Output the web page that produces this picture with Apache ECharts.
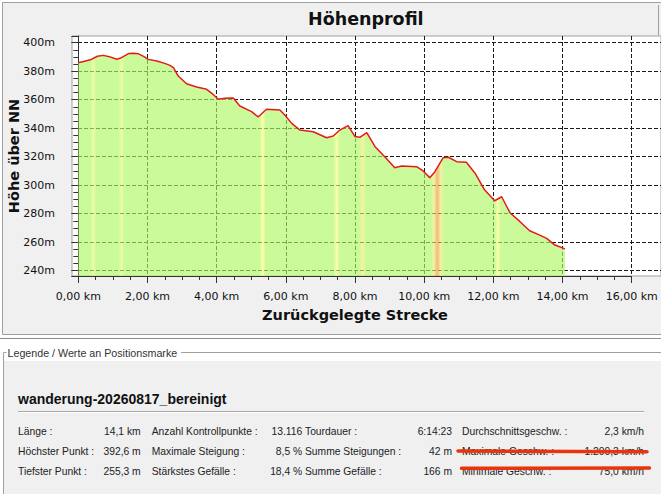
<!DOCTYPE html>
<html>
<head>
<meta charset="utf-8">
<script src="https://cdn.jsdelivr.net/npm/echarts@6/dist/echarts.min.js"></script>
<style>
html,body{margin:0;padding:0;background:#fff;}
#c{width:661px;height:494px;}
</style>
</head>
<body>
<div id="c"></div>
<script>
// ---------- DATA ----------
const distanceKm = [0.00,0.15,0.35,0.55,0.72,0.90,1.11,1.25,1.45,1.60,1.73,1.90,2.02,2.27,2.50,2.65,2.75,2.89,3.13,3.42,3.71,3.86,4.05,4.24,4.48,4.67,5.01,5.20,5.44,5.83,5.97,6.17,6.41,6.79,7.18,7.37,7.56,7.80,8.00,8.14,8.34,8.58,8.86,9.15,9.35,9.78,9.97,10.16,10.31,10.55,10.70,10.94,11.22,11.47,11.75,12.04,12.24,12.48,12.77,13.05,13.34,13.54,13.78,14.07];
const elevationM = [386.0,386.8,388.0,390.5,391.1,390.2,388.4,389.5,392.4,392.6,392.3,390.2,388.3,387.1,385.5,384.1,382.5,376.6,371.2,368.9,367.3,364.5,360.3,361.0,361.2,355.6,351.6,347.9,353.3,352.8,349.3,343.4,338.7,337.5,333.3,334.5,338.7,341.8,334.1,333.6,336.9,327.0,320.0,312.3,313.5,313.0,310.0,305.3,309.5,319.3,319.6,316.5,316.1,308.4,296.6,289.1,291.9,280.7,274.4,268.0,265.0,262.7,258.0,255.3];
const xTicks = [0,2,4,6,8,10,12,14,16];
const yTicks = [240,260,280,300,320,340,360,380,400];
// steep sections (slope classes) shown as coloured bands under the profile
const bandKm = [0.43,1.25,5.33,7.47,8.22,10.38,12.13];
const bandLevel = [1,1,2,2,3,4,2];

const chartTitle = 'Höhenprofil';
const xName = 'Zurückgelegte Strecke';
const yName = 'Höhe über NN';
const trackName = 'wanderung-20260817_bereinigt';
const statLabelsA = ['Länge :', 'Höchster Punkt :', 'Tiefster Punkt :'];
const statValuesA = ['14,1 km', '392,6 m', '255,3 m'];
const statLabelsB = ['Anzahl Kontrollpunkte :', 'Maximale Steigung :', 'Stärkstes Gefälle :'];
const statValuesB = ['13.116', '8,5 %', '18,4 %'];
const statLabelsC = ['Tourdauer :', 'Summe Steigungen :', 'Summe Gefälle :'];
const statValuesC = ['6:14:23', '42 m', '166 m'];
const statLabelsD = ['Durchschnittsgeschw. :', 'Maximale Geschw. :', 'Minimale Geschw. :'];
const statValuesD = ['2,3 km/h', '1.200,3 km/h', '75,0 km/h'];

// ---------- LAYOUT / STYLE ----------
const W = 661, H = 494;
const plotLeft = 72, plotRight = 661, plotTop = 36, plotBottom = 276;
const xAxisStart = 78.3, xAxisEnd = 631.7;   // pixel of first / last x tick
const yAxisTopPx = 42.7, yAxisBottomPx = 270.7; // pixel of last / first y tick
const xFirst = xTicks[0], xLast = xTicks[xTicks.length-1];
const yFirst = yTicks[0], yLast = yTicks[yTicks.length-1];
const pxPerKm = (xAxisEnd - xAxisStart) / (xLast - xFirst);
const pxPerM = (yAxisBottomPx - yAxisTopPx) / (yLast - yFirst);
const xMin = xFirst - (xAxisStart - plotLeft) / pxPerKm;
const xMax = xLast + (plotRight - xAxisEnd) / pxPerKm;
const yMax = yLast + (yAxisTopPx - plotTop) / pxPerM;
const yMin = yFirst - (plotBottom - yAxisBottomPx) / pxPerM;

const FONT = '"DejaVu Sans", sans-serif';
const UIFONT = '"Liberation Sans", Arial, sans-serif';
const baseGreen = 'rgb(175,247,101)';
const bandStyle = {
  1: {color: 'rgb(222,252,110)', hw: 0.09},
  2: {color: 'rgb(252,255,120)', hw: 0.09},
  3: {color: 'rgb(246,236,104)', hw: 0.09},
  4: {color: 'rgb(229,149,72)', edge: 'rgb(240,235,105)', hw: 0.17}
};

const span = distanceKm[distanceKm.length-1] - distanceKm[0];
const off = k => Math.min(1, Math.max(0, (k - distanceKm[0]) / span));
const stops = [{offset: 0, color: baseGreen}];
bandKm.forEach((k, i) => {
  const st = bandStyle[bandLevel[i]];
  stops.push({offset: off(k - st.hw), color: baseGreen});
  if (st.edge) stops.push({offset: off(k - st.hw * 0.6), color: st.edge});
  stops.push({offset: off(k), color: st.color});
  if (st.edge) stops.push({offset: off(k + st.hw * 0.6), color: st.edge});
  stops.push({offset: off(k + st.hw), color: baseGreen});
});
stops.push({offset: 1, color: baseGreen});

const profile = distanceKm.map((k, i) => [k, elevationM[i]]);

const graphics = [
  {type: 'rect', z: -10, silent: true, shape: {x: 2.5, y: 2.5, width: 720, height: 332}, style: {fill: '#f0f0f0', stroke: '#a0a0a0', lineWidth: 1}},
  {type: 'line', z: -9, silent: true, shape: {x1: 658.5, y1: 5, x2: 658.5, y2: 35.5}, style: {stroke: '#a0a0a0', lineWidth: 1}},
  {type: 'line', z: -9, silent: true, shape: {x1: 0, y1: 338.5, x2: W, y2: 338.5}, style: {stroke: '#8c8c8c', lineWidth: 1}},
  {type: 'rect', z: -10, silent: true, shape: {x: 4, y: 361, width: 700, height: 140}, style: {fill: '#f0f0f0'}},
  {type: 'polyline', z: -9, silent: true, shape: {points: [[6.5, 352.5], [3.5, 352.5], [3.5, 500]]}, style: {stroke: '#a0a0a0', fill: null, lineWidth: 1}},
  {type: 'line', z: -9, silent: true, shape: {x1: 181, y1: 352.5, x2: W, y2: 352.5}, style: {stroke: '#a0a0a0', lineWidth: 1}},
  {type: 'text', z: 10, silent: true, style: {x: 7.5, y: 352.5, text: 'Legende / Werte an Positionsmarke', fontFamily: UIFONT, fontSize: 10.7, fill: '#333', align: 'left', verticalAlign: 'middle'}},
  {type: 'text', z: 10, silent: true, style: {x: 18, y: 398.5, text: trackName, fontFamily: UIFONT, fontSize: 14, fontWeight: 'bold', fill: '#111', align: 'left', verticalAlign: 'middle'}},
  {type: 'line', z: 5, silent: true, shape: {x1: 18, y1: 411.5, x2: 644, y2: 411.5}, style: {stroke: '#a8a8a8', lineWidth: 1}},
  {type: 'line', z: 5, silent: true, shape: {x1: 18, y1: 412.5, x2: 644, y2: 412.5}, style: {stroke: '#ffffff', lineWidth: 1}}
];
const rowY = [431.7, 451.7, 471.7];
const colLabelX = [18, 151.7, 305, 462];
const colValueX = [140.7, 302.2, 452, 644];
[[statLabelsA, statValuesA], [statLabelsB, statValuesB], [statLabelsC, statValuesC], [statLabelsD, statValuesD]].forEach((col, c) => {
  col[0].forEach((lab, r) => {
    graphics.push({type: 'text', z: 10, silent: true, style: {x: colLabelX[c], y: rowY[r], text: lab, fontFamily: UIFONT, fontSize: 10.3, fill: '#222', align: 'left', verticalAlign: 'middle'}});
    graphics.push({type: 'text', z: 10, silent: true, style: {x: colValueX[c], y: rowY[r], text: col[1][r], fontFamily: UIFONT, fontSize: 10.3, fill: '#222', align: 'right', verticalAlign: 'middle'}});
  });
});
// red strike-through marks over the last two speed rows
graphics.push({type: 'line', z: 12, silent: true, shape: {x1: 458, y1: 451, x2: 647, y2: 451.8}, style: {stroke: '#e8350f', lineWidth: 3.5, lineCap: 'round'}});
graphics.push({type: 'line', z: 12, silent: true, shape: {x1: 461.5, y1: 468.3, x2: 649.5, y2: 468.0}, style: {stroke: '#e8350f', lineWidth: 3.5, lineCap: 'round'}});

const kmFmt = v => v.toFixed(2).replace('.', ',') + ' km';
const isYTick = v => yTicks.some(t => Math.abs(t - v) < 1e-6);

const chart = echarts.init(document.getElementById('c'), null, {renderer: 'svg', width: W, height: H});
chart.setOption({
  animation: false,
  backgroundColor: '#ffffff',
  title: {
    text: chartTitle, left: 308, top: 10, padding: 0,
    textStyle: {fontFamily: FONT, fontWeight: 'bold', fontSize: 17.5, color: '#111'}
  },
  graphic: graphics,
  grid: [
    {left: plotLeft, right: W - plotRight, top: plotTop, bottom: H - plotBottom, show: true, backgroundColor: '#ffffff', borderColor: '#a0a0a0', borderWidth: 1, containLabel: false, outerBoundsMode: 'none'},
    {left: xAxisStart, right: W - xAxisEnd, top: plotTop, bottom: H - plotBottom, show: false, containLabel: false, outerBoundsMode: 'none'}
  ],
  xAxis: [
    {
      gridIndex: 0, type: 'value', min: xMin, max: xMax, splitNumber: 8,
      axisLine: {show: false}, axisTick: {show: false}, axisLabel: {show: false},
      splitLine: {show: true, showMinLine: false, showMaxLine: false, lineStyle: {color: '#1a1a1a', type: [4, 2], width: 1}}
    },
    {
      gridIndex: 1, type: 'value', min: xFirst, max: xLast, interval: xTicks[1] - xTicks[0],
      position: 'bottom', offset: 4,
      name: xName, nameLocation: 'middle', nameGap: 27,
      nameTextStyle: {fontFamily: FONT, fontWeight: 'bold', fontSize: 14.5, color: '#111'},
      axisLine: {show: true, lineStyle: {color: '#333', width: 1}},
      axisTick: {show: true, length: 7, lineStyle: {color: '#333'}},
      minorTick: {show: true, splitNumber: 4, length: 4, lineStyle: {color: '#333'}},
      axisLabel: {show: true, margin: 11, formatter: kmFmt, fontFamily: FONT, fontSize: 11, color: '#111'},
      splitLine: {show: false}
    }
  ],
  yAxis: [
    {
      gridIndex: 0, type: 'value', min: yMin, max: yMax, splitNumber: 8,
      position: 'left', offset: 4,
      name: yName, nameLocation: 'middle', nameGap: 47, nameRotate: 90, nameMoveOverlap: false,
      nameTextStyle: {fontFamily: FONT, fontWeight: 'bold', fontSize: 14.5, color: '#111'},
      axisLine: {show: true, lineStyle: {color: '#333', width: 1}},
      axisTick: {show: true, length: 7, lineStyle: {color: '#333'}},
      minorTick: {show: true, splitNumber: 4, length: 5, lineStyle: {color: '#333'}},
      axisLabel: {show: true, showMinLabel: false, showMaxLabel: false, margin: 13,
        formatter: v => isYTick(v) ? Math.round(v) + 'm' : '',
        fontFamily: FONT, fontSize: 11, color: '#111'},
      splitLine: {show: true, showMinLine: false, showMaxLine: false, lineStyle: {color: '#1a1a1a', type: [4, 2], width: 1}}
    },
    {gridIndex: 1, type: 'value', min: 0, max: 1, show: false}
  ],
  series: [{
    type: 'line', xAxisIndex: 0, yAxisIndex: 0,
    data: profile, symbol: 'none', showSymbol: false, smooth: false,
    lineStyle: {color: '#e31b1b', width: 1.5},
    areaStyle: {origin: 'start', opacity: 0.65, color: {type: 'linear', x: 0, y: 0, x2: 1, y2: 0, colorStops: stops}},
    z: 2
  }]
});
</script>
</body>
</html>
